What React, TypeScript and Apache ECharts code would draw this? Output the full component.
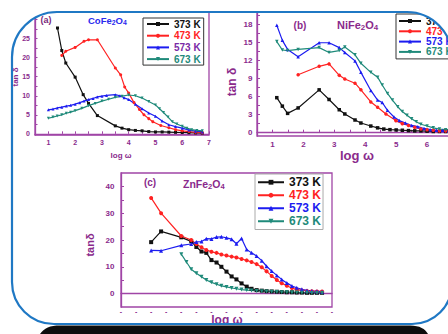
import React, { useEffect, useRef } from 'react';
import * as echarts from 'echarts';

// ---------- data ----------
const temps = ['373 K', '473 K', '573 K', '673 K'];

// (a) CoFe2O4 : [log ω, tan δ]
const co373 = [[1.34,27.8],[1.5,21.9],[1.65,18.6],[2.0,14.9],[2.3,10.3],[2.5,8.0],[2.83,4.8],[3.5,2.1],[3.75,1.5],[4.0,1.1],[4.25,0.9],[4.5,0.8],[4.75,0.6],[5.0,0.5],[5.25,0.5],[5.5,0.45],[5.75,0.4],[6.0,0.35],[6.25,0.3],[6.5,0.25],[6.75,0.2]];
const co473 = [[1.5,20.6],[1.65,21.7],[2.0,22.7],[2.33,24.3],[2.5,24.7],[2.83,24.7],[3.5,17.3],[3.7,15.5],[3.85,12.3],[4.0,10.7],[4.2,8.2],[4.4,6.4],[4.57,5.0],[4.75,4.0],[4.9,3.2],[5.2,2.2],[5.5,1.6],[5.75,1.1],[6.0,0.8],[6.25,0.6],[6.5,0.4],[6.75,0.3]];
const co573 = [[1.0,6.3],[1.17,6.5],[1.33,6.8],[1.5,7.0],[1.67,7.3],[1.83,7.5],[2.0,7.8],[2.17,8.2],[2.33,8.6],[2.5,9.0],[2.67,9.3],[2.83,9.7],[3.0,9.9],[3.17,10.1],[3.5,10.3],[3.67,10.0],[3.83,9.5],[4.0,9.0],[4.25,7.8],[4.5,6.6],[4.75,5.5],[5.0,4.6],[5.25,3.4],[5.5,2.4],[5.75,1.9],[6.0,1.5],[6.25,1.0],[6.5,0.7],[6.75,0.5]];
const co673 = [[1.0,4.1],[1.17,4.4],[1.33,4.7],[1.5,5.0],[1.67,5.4],[1.83,5.7],[2.0,6.1],[2.25,6.7],[2.5,7.4],[2.75,8.0],[3.0,8.6],[3.25,9.1],[3.5,9.6],[3.75,9.9],[4.0,10.2],[4.25,10.0],[4.5,9.4],[4.75,8.5],[5.0,7.6],[5.15,6.6],[5.3,5.6],[5.47,4.4],[5.63,3.2],[5.8,2.6],[6.0,2.0],[6.17,1.5],[6.35,1.1],[6.55,0.9],[6.75,0.8]];

// (b) NiFe2O4
const ni373 = [[1.14,5.8],[1.32,4.4],[1.49,3.2],[1.83,4.1],[2.51,7.1],[2.83,5.5],[3.16,3.8],[3.34,3.1],[3.67,2.1],[3.86,1.6],[4.18,1.1],[4.4,0.8],[4.6,0.6],[4.8,0.5],[5.0,0.45],[5.2,0.4],[5.4,0.35],[5.6,0.3],[5.8,0.3],[6.0,0.25],[6.2,0.2],[6.4,0.2],[6.6,0.2],[6.8,0.2]];
const ni473 = [[1.83,9.6],[2.51,11.0],[2.83,11.4],[3.16,9.5],[3.34,8.9],[3.67,8.2],[3.86,7.1],[4.18,5.1],[4.4,4.2],[4.67,3.1],[4.99,2.0],[5.2,1.5],[5.4,1.2],[5.6,0.9],[5.8,0.6],[6.0,0.5],[6.2,0.4],[6.4,0.3],[6.6,0.3],[6.8,0.2]];
const ni573 = [[1.14,17.8],[1.32,15.3],[1.49,13.8],[1.83,12.6],[2.51,14.9],[2.83,14.9],[3.16,14.1],[3.34,13.3],[3.67,11.9],[3.86,10.0],[4.18,7.0],[4.4,5.4],[4.55,5.0],[4.72,3.7],[4.93,2.6],[5.1,2.0],[5.3,1.6],[5.5,1.2],[5.7,1.0],[5.9,0.7],[6.1,0.5],[6.3,0.4],[6.5,0.35],[6.7,0.3],[6.9,0.3]];
const ni673 = [[1.14,15.1],[1.32,13.7],[1.49,13.6],[1.83,13.8],[2.51,14.1],[2.83,13.3],[3.16,13.6],[3.34,14.2],[3.67,12.9],[3.86,11.5],[4.18,10.0],[4.4,9.2],[4.55,7.9],[4.72,6.5],[4.88,5.4],[5.05,4.3],[5.2,3.5],[5.35,2.9],[5.5,2.3],[5.65,1.8],[5.8,1.4],[6.0,1.1],[6.2,0.8],[6.4,0.6],[6.6,0.5],[6.8,0.5]];

// (c) ZnFe2O4
const zn373 = [[1.0,19.2],[1.33,23.2],[2.0,21.0],[2.33,19.5],[2.5,17.4],[2.67,15.7],[2.83,15.2],[3.0,12.5],[3.17,11.6],[3.33,10.0],[3.5,8.2],[3.67,6.4],[3.83,5.3],[4.0,3.8],[4.17,2.6],[4.33,1.8],[4.5,1.3],[4.67,1.1],[4.83,0.9],[5.0,0.8],[5.17,0.7],[5.33,0.6],[5.5,0.5],[5.67,0.5],[5.83,0.4],[6.0,0.4],[6.17,0.3],[6.33,0.3],[6.5,0.3],[6.67,0.3]];
const zn473 = [[1.0,35.7],[1.33,30.0],[2.0,21.5],[2.33,20.0],[2.5,18.5],[2.67,17.3],[2.83,16.3],[3.0,15.6],[3.17,15.2],[3.33,14.6],[3.5,14.2],[3.67,13.8],[3.83,13.5],[4.0,12.9],[4.17,12.4],[4.33,11.8],[4.5,11.0],[4.67,9.8],[4.83,8.3],[5.0,6.6],[5.17,5.1],[5.33,3.9],[5.5,2.9],[5.67,2.1],[5.83,1.5],[6.0,1.2],[6.17,1.0],[6.33,0.9],[6.5,0.8],[6.67,0.8]];
const zn573 = [[1.0,16.1],[1.33,16.0],[2.0,18.0],[2.33,18.5],[2.5,19.3],[2.67,19.4],[2.83,20.5],[3.0,20.4],[3.17,21.1],[3.33,21.2],[3.5,20.8],[3.67,20.3],[3.83,18.6],[4.0,20.6],[4.17,16.5],[4.33,15.2],[4.5,14.0],[4.67,12.3],[4.83,10.2],[5.0,8.4],[5.17,6.8],[5.33,5.3],[5.5,4.0],[5.67,2.8],[5.83,2.2],[6.0,1.6],[6.17,1.2],[6.33,1.0],[6.5,0.9],[6.67,0.7]];
const zn673 = [[2.0,14.7],[2.17,11.8],[2.33,9.1],[2.5,7.6],[2.67,6.3],[2.83,5.1],[3.0,4.2],[3.17,3.5],[3.33,2.9],[3.5,2.5],[3.67,2.1],[3.83,1.8],[4.0,1.5],[4.17,1.3],[4.33,1.2],[4.5,1.0],[4.67,0.9],[4.83,0.8],[5.0,0.7],[5.17,0.6],[5.33,0.5],[5.5,0.5],[5.67,0.4],[5.83,0.4],[6.0,0.3],[6.17,0.3],[6.33,0.2],[6.5,0.2],[6.67,0.2]];

// tick labels
const xLabelsA = [1, 2, 3, 4, 5, 6, 7];
const xLabelsB = [1, 2, 3, 4, 5, 6];
const xTicksAB = [1, 1.5, 2, 2.5, 3, 3.5, 4, 4.5, 5, 5.5, 6, 6.5, 7];
const yLabelsA = [0, 5, 10, 15, 20, 25];
const yTicksA = [0, 2.5, 5, 7.5, 10, 12.5, 15, 17.5, 20, 22.5, 25, 27.5, 30];
const yLabelsB = [0, 3, 6, 9, 12, 15, 18];
const yTicksB = [0, 1.5, 3, 4.5, 6, 7.5, 9, 10.5, 12, 13.5, 15, 16.5, 18, 19.5];
const yLabelsC = [0, 10, 20, 30, 40];
const yTicksC = [0, 5, 10, 15, 20, 25, 30, 35, 40];

// ---------- styles ----------
const PURPLE = '#a045a6';
const TXT = '#8a2a8c';
const COLORS = ['#111111', '#ff2222', '#1c1cf0', '#1f8a7a'];
const SYMBOLS = ['rect', 'circle', 'triangle', 'triangle'];
const ROT = [0, 0, 0, 180];
const FONT = "Arial, 'Liberation Sans', sans-serif";

const INNER = 'M12 57 V282 A42 42 0 0 0 54 324 H412 A40 40 0 0 0 452 284 V57 A45 45 0 0 0 407 12 H57 A45 45 0 0 0 12 57 Z';
const MASK = 'M-10 -10 H470 V350 H-10 Z ' + INNER;
const BAR = 'M40 334 C44 328 50 325.5 60 325.5 H410 C420 325.5 425 329 428 334 Z';

let registered = false;
function registerShapes() {
  if (registered) return;
  registered = true;
  echarts.graphic.registerShape('frameMask', echarts.graphic.extendPath(MASK, {}));
  echarts.graphic.registerShape('frameLine', echarts.graphic.extendPath(INNER, {}));
  echarts.graphic.registerShape('frameBar', echarts.graphic.extendPath(BAR, {}));
}

function sub(text: string, base: number, color: string) {
  const parts = text.split(/(\d)/).filter((p) => p.length);
  const str = parts.map((p) => (/^\d$/.test(p) ? `{s|${p}}` : `{n|${p}}`)).join('');
  return {
    text: str,
    rich: {
      n: { fontSize: base, fontWeight: 'bold', fontFamily: FONT, fill: color, lineHeight: base + 2 },
      s: { fontSize: base * 0.72, fontWeight: 'bold', fontFamily: FONT, fill: color, lineHeight: base * 0.5, verticalAlign: 'bottom' },
    },
    verticalAlign: 'middle',
    align: 'left',
  };
}

function txt(x: number, y: number, text: string, size: number, opts: any = {}) {
  return {
    type: 'text',
    x,
    y,
    rotation: opts.rotation || 0,
    z: 50,
    silent: true,
    style: {
      text,
      fontSize: size,
      fontWeight: 'bold',
      fontFamily: FONT,
      fill: opts.color || TXT,
      align: opts.align || 'center',
      verticalAlign: 'middle',
    },
  };
}

export default function App() {
  const ref = useRef<HTMLDivElement>(null);

  useEffect(() => {
    if (!ref.current) return;
    registerShapes();
    const chart = echarts.init(ref.current, null, { renderer: 'svg' });

    const sets = [
      [co373, co473, co573, co673],
      [ni373, ni473, ni573, ni673],
      [zn373, zn473, zn573, zn673],
    ];
    const symSize = [3, 3.5, 4];
    const series: any[] = [];
    sets.forEach((set, g) => {
      set.forEach((data, i) => {
        series.push({
          type: 'line',
          name: temps[i],
          xAxisIndex: g,
          yAxisIndex: g,
          data,
          symbol: SYMBOLS[i],
          symbolRotate: ROT[i],
          symbolSize: symSize[g],
          showAllSymbol: true,
          lineStyle: { color: COLORS[i], width: 1.2 },
          itemStyle: { color: COLORS[i] },
          emphasis: { disabled: true },
        });
      });
    });

    const axisLine = { show: true, lineStyle: { color: PURPLE, width: 1.3 } };
    const lbl = (size: number, margin: number) => ({
      color: TXT,
      fontSize: size,
      fontWeight: 'bold',
      fontFamily: FONT,
      margin,
    });

    const xAxis: any[] = [
      {
        type: 'value', gridIndex: 0, min: 0.5, max: 7,
        axisLine, splitLine: { show: false },
        axisTick: { show: true, inside: true, length: 2.5, lineStyle: { color: PURPLE }, customValues: xTicksAB },
        axisLabel: { ...lbl(7, 4), customValues: xLabelsA },
      },
      {
        type: 'value', gridIndex: 1, min: 0.5, max: 7,
        axisLine, splitLine: { show: false },
        axisTick: { show: true, inside: true, length: 3, lineStyle: { color: PURPLE }, customValues: xTicksAB },
        axisLabel: { ...lbl(8, 4), customValues: xLabelsB },
      },
      {
        type: 'value', gridIndex: 2, min: 0, max: 7, interval: 0.5,
        axisLine, splitLine: { show: false },
        axisTick: { show: false },
        axisLabel: { ...lbl(7, 1), lineHeight: 6, formatter: () => '-' },
      },
    ];
    const yAxis: any[] = [
      {
        type: 'value', gridIndex: 0, min: -0.3, max: 32,
        axisLine, splitLine: { show: false },
        axisTick: { show: true, inside: true, length: 2.5, lineStyle: { color: PURPLE }, customValues: yTicksA },
        axisLabel: { ...lbl(7, 5), customValues: yLabelsA },
      },
      {
        type: 'value', gridIndex: 1, min: -0.55, max: 20,
        axisLine, splitLine: { show: false },
        axisTick: { show: true, inside: true, length: 3, lineStyle: { color: PURPLE }, customValues: yTicksB },
        axisLabel: { ...lbl(8, 4.5), customValues: yLabelsB },
      },
      {
        type: 'value', gridIndex: 2, min: -5, max: 45,
        axisLine, splitLine: { show: false },
        axisTick: { show: true, inside: true, length: 3, lineStyle: { color: PURPLE }, customValues: yTicksC },
        axisLabel: { ...lbl(8, 6.5), customValues: yLabelsC },
      },
    ];

    const legendData = (blueText: string) =>
      temps.map((t, i) => ({
        name: t,
        textStyle: { color: i === 2 ? blueText : COLORS[i] },
      }));

    const legend: any[] = [
      {
        left: 143, top: 18, orient: 'vertical', padding: [1, 3],
        itemWidth: 22, itemHeight: 5, itemGap: 1.7,
        borderColor: '#333', borderWidth: 1, backgroundColor: '#fff',
        textStyle: { fontSize: 10, fontWeight: 'bold', fontFamily: FONT, lineHeight: 10 },
        data: legendData('#7a2aa6'),
        selectedMode: false,
      },
      {
        left: 396, top: 14, orient: 'vertical', padding: [2, 2],
        itemWidth: 22, itemHeight: 5, itemGap: 0.3,
        borderColor: '#333', borderWidth: 1, backgroundColor: '#fff',
        textStyle: { fontSize: 10, fontWeight: 'bold', fontFamily: FONT, lineHeight: 9 },
        data: legendData(COLORS[2]),
        selectedMode: false,
      },
      {
        left: 255, top: 174, orient: 'vertical', padding: [2, 2],
        itemWidth: 26, itemHeight: 6, itemGap: 0.5,
        borderColor: '#aaa', borderWidth: 1, backgroundColor: '#fff',
        textStyle: { fontSize: 12, fontWeight: 'bold', fontFamily: FONT, lineHeight: 12.5 },
        data: legendData(COLORS[2]),
        selectedMode: false,
      },
    ];

    const gridStyle = {
      show: true, borderColor: PURPLE, borderWidth: 1.3, backgroundColor: 'transparent',
      containLabel: false, outerBoundsMode: 'none',
    };

    chart.setOption({
      animation: false,
      backgroundColor: '#ffffff',
      grid: [
        { ...gridStyle, left: 35, top: 12, width: 174, height: 123 },
        { ...gridStyle, left: 257, top: 12, width: 201, height: 124 },
        { ...gridStyle, left: 121, top: 173, width: 211, height: 134 },
      ],
      xAxis,
      yAxis,
      legend,
      series,
      graphic: [
        // titles
        txt(46, 20, '(a)', 9, { color: '#7a2a7c' }),
        { type: 'text', x: 88, y: 20, z: 50, silent: true, style: sub('CoFe2O4', 9.5, '#2a2aee') },
        txt(300, 25, '(b)', 10),
        { type: 'text', x: 337, y: 25, z: 50, silent: true, style: sub('NiFe2O4', 11, TXT) },
        txt(150, 182, '(c)', 10),
        { type: 'text', x: 183, y: 184, z: 50, silent: true, style: sub('ZnFe2O4', 10.5, TXT) },
        // axis names
        txt(15, 77, 'tan δ', 8, { rotation: Math.PI / 2 }),
        txt(121, 155, 'log ω', 8),
        txt(232, 82, 'tan δ', 12, { rotation: Math.PI / 2 }),
        txt(357, 155, 'log ω', 13),
        txt(90, 245, 'tanδ', 11, { rotation: Math.PI / 2 }),
        txt(227, 320, 'log ω', 12),
        // frame
        { type: 'frameMask', x: 0, y: 0, z: 100, silent: true, style: { fill: '#ffffff', stroke: 'none' } },
        { type: 'frameLine', x: 0, y: 0, z: 101, silent: true, style: { fill: 'none', stroke: '#1f78c4', lineWidth: 2.2 } },
        { type: 'frameBar', x: 0, y: 0, z: 102, silent: true, style: { fill: '#0d0d0d', stroke: 'none' } },
      ],
    });

    return () => chart.dispose();
  }, []);

  return (
    <div
      ref={ref}
      style={{ position: 'fixed', left: 0, top: 0, width: 448, height: 334, background: '#fff' }}
    />
  );
}
